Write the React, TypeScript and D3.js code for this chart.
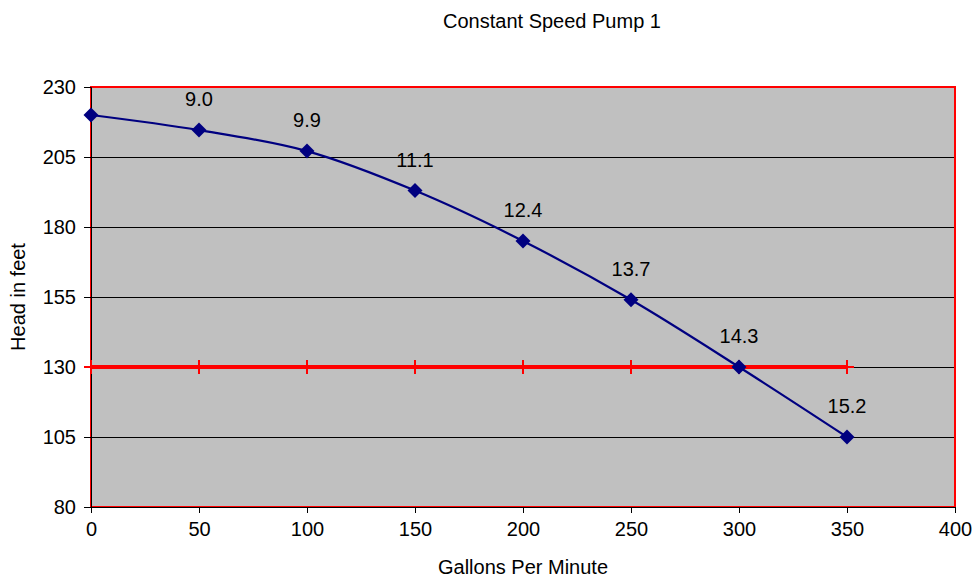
import React, { useRef, useEffect } from 'react';
import * as d3 from 'd3';

const gpm = [0, 50, 100, 150, 200, 250, 300, 350];
const head = [220, 214.6, 207.1, 193, 175, 154, 130, 105];
const pointLabels = ['', '9.0', '9.9', '11.1', '12.4', '13.7', '14.3', '15.2'];
const systemHead = [130, 130, 130, 130, 130, 130, 130, 130];
const xTicks = [0, 50, 100, 150, 200, 250, 300, 350, 400];
const yTicks = [80, 105, 130, 155, 180, 205, 230];

const App = () => {
  const ref = useRef<SVGSVGElement | null>(null);
  const width = 974;
  const height = 579;
  const margin = { top: 87, right: 19, bottom: 72, left: 91 };

  useEffect(() => {
    if (!ref.current) return;
    const svg = d3.select(ref.current);
    svg.selectAll('*').remove();
    const font = 'Arial, "Liberation Sans", sans-serif';

    const x = d3.scaleLinear().domain([0, 400]).range([margin.left, width - margin.right]);
    const y = d3.scaleLinear().domain([80, 230]).range([height - margin.bottom, margin.top]);

    // plot background
    svg
      .append('rect')
      .attr('x', x(0))
      .attr('y', y(230))
      .attr('width', x(400) - x(0))
      .attr('height', y(80) - y(230))
      .attr('fill', '#C0C0C0');

    // gridlines
    svg
      .append('g')
      .selectAll('line')
      .data(yTicks.filter((d) => d > 80 && d < 230))
      .join('line')
      .attr('x1', x(0))
      .attr('x2', x(400))
      .attr('y1', (d) => y(d))
      .attr('y2', (d) => y(d))
      .attr('stroke', '#000')
      .attr('stroke-width', 1)
      .attr('shape-rendering', 'crispEdges');

    // red frame
    svg
      .append('rect')
      .attr('x', x(0))
      .attr('y', y(230))
      .attr('width', x(400) - x(0))
      .attr('height', y(80) - y(230))
      .attr('fill', 'none')
      .attr('stroke', '#FF0000')
      .attr('stroke-width', 2);

    // axes
    const xAxis = svg
      .append('g')
      .attr('transform', `translate(0,${y(80)})`)
      .call(d3.axisBottom(x).tickValues(xTicks).tickSize(6).tickPadding(9).tickFormat(d3.format('d')));
    const yAxis = svg
      .append('g')
      .attr('transform', `translate(${x(0)},0)`)
      .call(d3.axisLeft(y).tickValues(yTicks).tickSize(7).tickPadding(8).tickFormat(d3.format('d')));
    [xAxis, yAxis].forEach((g) => {
      g.select('.domain').attr('stroke', '#000').attr('stroke-width', 1);
      g.selectAll('.tick line').attr('stroke', '#000');
      g.selectAll('.tick text').attr('font-family', font).attr('font-size', 20).attr('fill', '#000');
    });

    // system head line
    const sysLine = d3
      .line<number>()
      .x((_, i) => x(gpm[i]))
      .y((d) => y(d));
    svg
      .append('path')
      .datum(systemHead)
      .attr('d', sysLine)
      .attr('fill', 'none')
      .attr('stroke', '#FF0000')
      .attr('stroke-width', 4);
    svg
      .append('g')
      .selectAll('path')
      .data(systemHead)
      .join('path')
      .attr('d', (d, i) => {
        const cx = x(gpm[i]);
        const cy = y(d);
        return `M${cx - 7},${cy}H${cx + 7}M${cx},${cy - 7}V${cy + 7}`;
      })
      .attr('stroke', '#FF0000')
      .attr('stroke-width', 2);

    // pump curve
    const pumpLine = d3
      .line<number>()
      .curve(d3.curveCatmullRom.alpha(0.5))
      .x((_, i) => x(gpm[i]))
      .y((d) => y(d));
    svg
      .append('path')
      .datum(head)
      .attr('d', pumpLine)
      .attr('fill', 'none')
      .attr('stroke', '#000080')
      .attr('stroke-width', 2.2);
    svg
      .append('g')
      .selectAll('path')
      .data(head)
      .join('path')
      .attr('transform', (d, i) => `translate(${x(gpm[i])},${y(d)})`)
      .attr('d', 'M0,-7.5L7.5,0L0,7.5L-7.5,0Z')
      .attr('fill', '#000080');

    svg
      .append('g')
      .selectAll('text')
      .data(head)
      .join('text')
      .attr('x', (_, i) => x(gpm[i]))
      .attr('y', (d) => y(d) - 24)
      .attr('text-anchor', 'middle')
      .attr('font-family', font)
      .attr('font-size', 20)
      .text((_, i) => pointLabels[i]);

    // titles
    svg
      .append('text')
      .attr('x', 552)
      .attr('y', 28)
      .attr('text-anchor', 'middle')
      .attr('font-family', font)
      .attr('font-size', 20)
      .text('Constant Speed Pump 1');
    svg
      .append('text')
      .attr('x', (x(0) + x(400)) / 2)
      .attr('y', 574)
      .attr('text-anchor', 'middle')
      .attr('font-family', font)
      .attr('font-size', 20)
      .text('Gallons Per Minute');
    svg
      .append('text')
      .attr('transform', `translate(25,${(y(80) + y(230)) / 2}) rotate(-90)`)
      .attr('text-anchor', 'middle')
      .attr('font-family', font)
      .attr('font-size', 20)
      .text('Head in feet');
  }, []);

  return (
    <svg
      ref={ref}
      width={width}
      height={height}
      style={{ position: 'absolute', left: 0, top: 0, background: '#fff' }}
    />
  );
};

export default App;
